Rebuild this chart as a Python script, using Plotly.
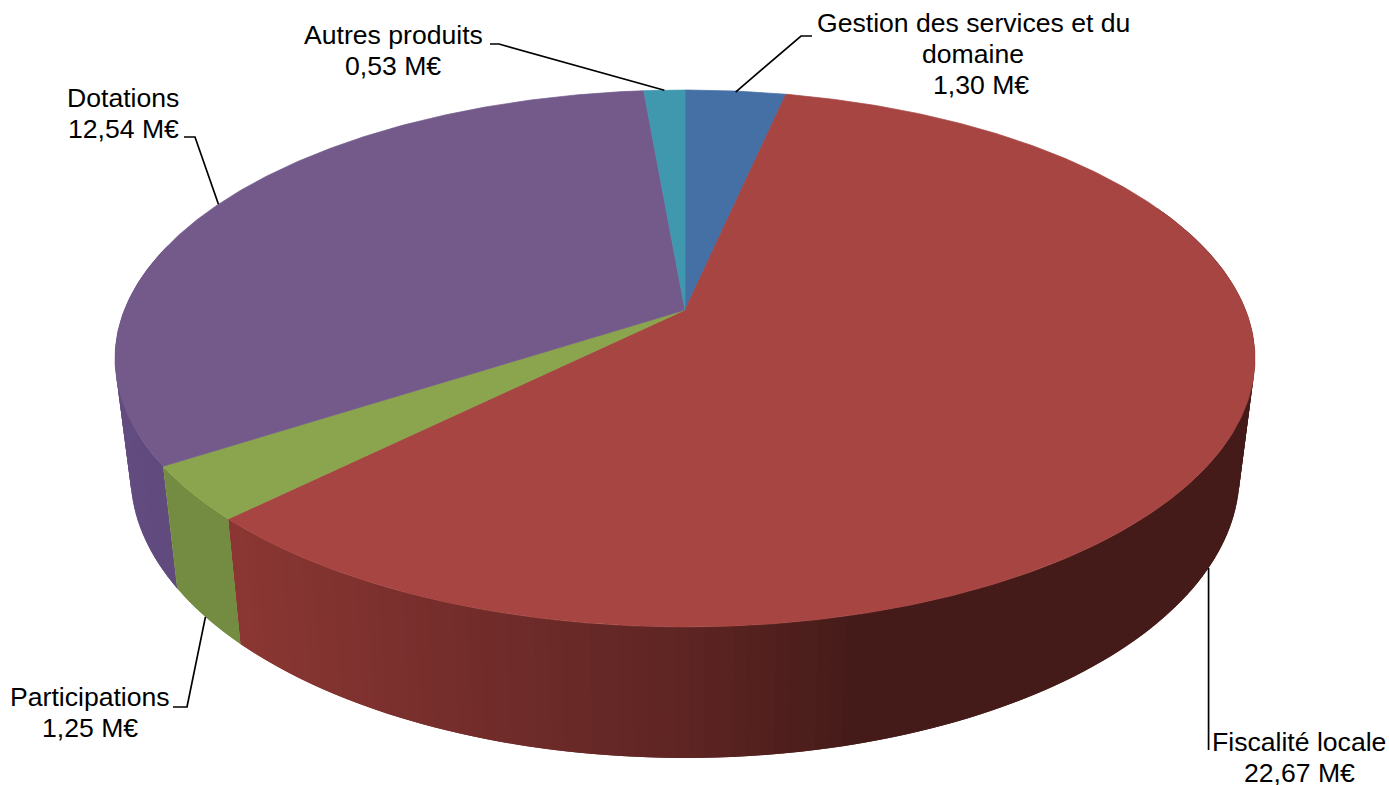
import math
import plotly.graph_objects as go

# Data
categories = [["Gestion des services et du", "domaine"], ["Fiscalité locale"], ["Participations"], ["Dotations"], ["Autres produits"]]
values = [1.30, 22.67, 1.25, 12.54, 0.53]

# Styles
top_colors = ["#4570a6", "#a64542", "#8aa54e", "#735a8b", "#3f98ae"]
wall_stops = [
    [(115, (98, 76, 128)), (175, (96, 74, 124))],
    [(228, (140, 55, 51)), (450, (118, 46, 44)), (700, (94, 37, 35)), (870, (69, 27, 25)), (1260, (69, 27, 25))],
    [(170, (116, 140, 66)), (240, (116, 140, 66))],
]
wall_index = {1: 1, 2: 2, 3: 0}
FONT = "Liberation Sans, Arial, sans-serif"
FS = 26.6

# Projection of the pie disc
CX, CY, A, B, K = 685.0, 310.0, 560.6, 259.7, 0.1806
SHRINK, D0, D1 = 0.973, 113.4, 0.0556


def top(theta):
    t = math.radians(theta)
    u, v = math.sin(t), -math.cos(t)
    w = 1 - K * v
    return CX + A * u / w, CY + B * v / w


def bottom(theta):
    x, y = top(theta)
    return CX + (x - CX) * SHRINK, y + D0 + D1 * (y - CY)


def wall_color(stops, x):
    if x <= stops[0][0]:
        c = stops[0][1]
    elif x >= stops[-1][0]:
        c = stops[-1][1]
    else:
        for (x0, c0), (x1, c1) in zip(stops, stops[1:]):
            if x0 <= x <= x1:
                f = (x - x0) / (x1 - x0)
                c = tuple(round(a + (b - a) * f) for a, b in zip(c0, c1))
                break
    return "rgb(%d,%d,%d)" % tuple(c)


total = sum(values)
edges = [0.0]
for v in values:
    edges.append(edges[-1] + v / total * 360)
mids = [(a + b) / 2 for a, b in zip(edges, edges[1:])]

fig = go.Figure()


def poly(xs, ys, color, width=0.7):
    fig.add_trace(go.Scatter(x=xs, y=ys, mode="lines", fill="toself", fillcolor=color,
                             line=dict(color=color, width=width), hoverinfo="skip", showlegend=False))


# Side wall: back to front; every strip overlaps the next one, so no seams show
for i in (3, 1, 2):
    a0, a1 = edges[i], edges[i + 1]
    if i == 3:
        a1 = min(a1, 285)
    if i == 1:
        a0 = max(a0, 65)
    n = max(2, int((a1 - a0) / 1.2))
    step = (a1 - a0) / n
    stops = wall_stops[wall_index[i]]
    order = range(n)
    if i == 1:
        order = range(n - 1, -1, -1)
    for j in order:
        t0 = a0 + step * j
        t1 = a0 + step * (j + 1)
        e0 = t0
        e1 = t1
        if i == 1:
            e1 = min(t1 + step, a1)
        else:
            e0 = max(t0 - step, a0)
        p = [top(e0), top(e1), bottom(e1), bottom(e0)]
        mid = top((t0 + t1) / 2)[0]
        poly([q[0] for q in p] + [p[0][0]], [q[1] for q in p] + [p[0][1]],
             wall_color(stops, mid), width=0)

# Top face
for i in range(len(values)):
    a0, a1 = edges[i], edges[i + 1]
    n = max(6, int((a1 - a0) / 0.5))
    pts = [top(a0 + (a1 - a0) * j / n) for j in range(n + 1)]
    xs = [CX] + [q[0] for q in pts] + [CX]
    ys = [CY] + [q[1] for q in pts] + [CY]
    poly(xs, ys, top_colors[i])

# Leader lines: from the slice's mid angle out to the label
anchors = [top(mids[0]), bottom(mids[1]), bottom(mids[2]), top(mids[3]), top(mids[4])]
anchors[0] = (anchors[0][0], anchors[0][1] + 1)
elbows = [[(801, 36), (812, 36)],
          [(None, 750)],
          [(187, 707), (173, 707)],
          [(195, 137), (184, 137)],
          [(499, 44), (490, 44)]]
for (ax, ay), el in zip(anchors, elbows):
    xs, ys = [ax], [ay]
    for ex, ey in el:
        xs.append(ax if ex is None else ex)
        ys.append(ey)
    fig.add_trace(go.Scatter(x=xs, y=ys, mode="lines", line=dict(color="#000000", width=1.7),
                             hoverinfo="skip", showlegend=False))

# Labels, placed line by line
label_x = [973, 1299, 90, 123, 393]
label_y = [23, 742, 697, 98, 35]
LINE = 31
for i, (c, v) in enumerate(zip(categories, values)):
    val = f"{v:.2f}".replace(".", ",") + " M€"
    lines = c + [val]
    for k, line in enumerate(lines):
        lx = label_x[i] + (8 if i == 0 and k == 2 else 0)
        fig.add_annotation(x=lx, y=label_y[i] + k * LINE, xref="x", yref="y", text=line, showarrow=False,
                           align="center", xanchor="center", yanchor="middle",
                           font=dict(family=FONT, size=FS, color="#000000"))

fig.update_layout(width=1389, height=785, margin=dict(l=0, r=0, t=0, b=0),
                  paper_bgcolor="#ffffff", plot_bgcolor="#ffffff", showlegend=False,
                  xaxis=dict(range=[0, 1389], visible=False, fixedrange=True),
                  yaxis=dict(range=[785, 0], visible=False, fixedrange=True))

fig.write_html("out.html", post_script="document.body.style.margin='0';document.body.style.overflow='hidden';",
               config=dict(displayModeBar=False))
